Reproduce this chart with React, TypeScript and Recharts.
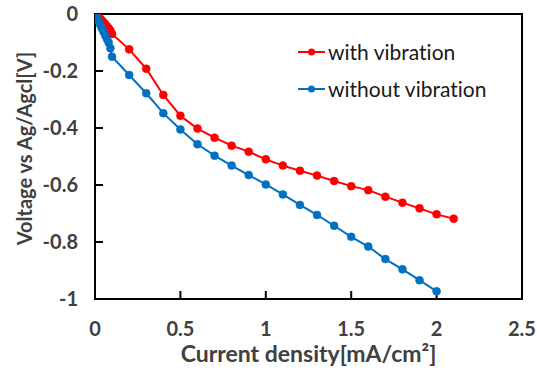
import {
  LineChart,
  Line,
  XAxis,
  YAxis,
  ReferenceArea,
} from "recharts";

// current density [mA/cm2]
const withX = [0, 0.01, 0.02, 0.03, 0.04, 0.05, 0.06, 0.07, 0.08, 0.09, 0.1, 0.2, 0.3, 0.4, 0.5, 0.6, 0.7, 0.8, 0.9, 1.0, 1.1, 1.2, 1.3, 1.4, 1.5, 1.6, 1.7, 1.8, 1.9, 2.0, 2.1];
// voltage [V]
const withV = [0, -0.005, -0.01, -0.016, -0.022, -0.029, -0.036, -0.043, -0.05, -0.058, -0.07, -0.124, -0.192, -0.284, -0.357, -0.402, -0.434, -0.462, -0.483, -0.51, -0.532, -0.55, -0.567, -0.586, -0.604, -0.618, -0.641, -0.662, -0.682, -0.703, -0.718];

const withoutX = [0, 0.01, 0.02, 0.03, 0.04, 0.05, 0.06, 0.07, 0.08, 0.09, 0.1, 0.2, 0.3, 0.4, 0.5, 0.6, 0.7, 0.8, 0.9, 1.0, 1.1, 1.2, 1.3, 1.4, 1.5, 1.6, 1.7, 1.8, 1.9, 2.0];
const withoutV = [0, -0.012, -0.025, -0.037, -0.05, -0.062, -0.075, -0.088, -0.1, -0.12, -0.15, -0.214, -0.278, -0.348, -0.405, -0.457, -0.497, -0.532, -0.565, -0.598, -0.633, -0.67, -0.705, -0.743, -0.782, -0.816, -0.86, -0.896, -0.934, -0.973];

const xTicks = [0, 0.5, 1, 1.5, 2, 2.5];
const yTicks = [-1, -0.8, -0.6, -0.4, -0.2, 0];

const seriesNames = ["with vibration", "without vibration"];
const RED = "#ff0000";
const BLUE = "#0070c0";

const withData = withX.map((x, i) => ({ x, v: withV[i] }));
const withoutData = withoutX.map((x, i) => ({ x, v: withoutV[i] }));

const FONT = "Lato, 'Open Sans', sans-serif";
const TEXT = "#404040";

// legend drawn as an overlay so it takes no room from the plot
const LegendBox = () => (
  <div
    style={{
      position: "absolute",
      left: 298,
      top: 33,
      fontFamily: FONT,
      fontSize: 21,
      color: "#1a1a1a",
      fontVariantLigatures: "none",
    }}
  >
    {[RED, BLUE].map((c, i) => (
      <div key={i} style={{ display: "flex", alignItems: "center", height: 37 }}>
        <svg width={28} height={12} style={{ marginRight: 2 }}>
          <line x1={0} y1={6} x2={27} y2={6} stroke={c} strokeWidth={2} />
          <circle cx={13.5} cy={6} r={3.5} fill={c} />
        </svg>
        <span>{seriesNames[i]}</span>
      </div>
    ))}
  </div>
);

export default function App() {
  return (
    <div style={{ position: "absolute", left: 0, top: 0, width: 537, height: 374 }}>
      <LineChart
        width={537}
        height={374}
        margin={{ top: 14, right: 15, bottom: 0, left: 0 }}
        style={{ background: "#fff" }}
      >
        <XAxis
          dataKey="x"
          type="number"
          domain={[0, 2.5]}
          ticks={xTicks}
          interval={0}
          height={75}
          allowDataOverflow
          axisLine={{ stroke: "#000", strokeWidth: 2 }}
          tickLine={{ stroke: "#000", strokeWidth: 2 }}
          tickSize={-8}
          tickMargin={31}
          tick={{ fill: TEXT, fontSize: 20, fontWeight: 700, fontFamily: FONT }}
          label={{
            value: "Current density[mA/cm²]",
            position: "insideBottom",
            offset: 12,
            fill: TEXT,
            fontSize: 23,
            fontWeight: 700,
            fontFamily: FONT,
          }}
        />
        <YAxis
          type="number"
          domain={[-1, 0]}
          ticks={yTicks}
          interval={0}
          width={95}
          allowDataOverflow
          axisLine={{ stroke: "#000", strokeWidth: 2 }}
          tickLine={{ stroke: "#000", strokeWidth: 2 }}
          tickSize={-8}
          tickMargin={25}
          tick={{ fill: TEXT, fontSize: 20, fontWeight: 700, fontFamily: FONT }}
          label={{
            content: ({ viewBox }: any) => {
              const cx = viewBox.x + 24;
              const cy = viewBox.y + viewBox.height / 2 - 8;
              return (
                <text
                  x={cx}
                  y={cy}
                  transform={`rotate(-90, ${cx}, ${cy})`}
                  textAnchor="middle"
                  dominantBaseline="central"
                  fill={TEXT}
                  fontSize={20}
                  fontWeight={700}
                  fontFamily={FONT}
                >
                  Voltage vs Ag/Agcl[V]
                </text>
              );
            },
          }}
        />
        <ReferenceArea
          x1={0}
          x2={2.5}
          y1={-1}
          y2={0}
          fill="none"
          stroke="#000"
          strokeWidth={2}
          ifOverflow="visible"
        />
        <Line
          data={withData}
          dataKey="v"
          name={seriesNames[0]}
          stroke={RED}
          strokeWidth={2}
          dot={{ r: 4, fill: RED, stroke: RED, strokeWidth: 0.5 }}
          isAnimationActive={false}
        />
        <Line
          data={withoutData}
          dataKey="v"
          name={seriesNames[1]}
          stroke={BLUE}
          strokeWidth={2}
          dot={{ r: 4, fill: BLUE, stroke: BLUE, strokeWidth: 0.5 }}
          isAnimationActive={false}
        />
      </LineChart>
      <LegendBox />
    </div>
  );
}
